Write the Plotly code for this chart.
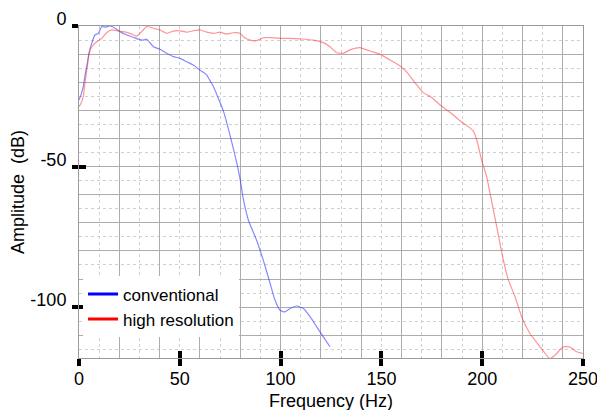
import plotly.graph_objects as go

conv_f = [0, 1, 2.1, 3, 4.1, 5, 6.3, 7.9, 9.6, 11.3, 13, 15.4, 17.9, 20.3, 23.7, 26.9, 29.4, 31.9, 33.6, 36.9,
          40.2, 43.5, 46.8, 50.1, 53.4, 56.7, 60, 63.3, 65, 66.7, 69, 71.6, 74.9, 78.2, 80, 81.5, 84, 88.1, 91.4, 94.8,
          97.2, 99.7, 102.2, 104.7, 108, 111.3, 114.6, 117.9, 121.2, 124.5]
conv_a = [-26.3, -24.5, -21.6, -17.5, -13.3, -9.5, -6.2, -3.2, -2.6, -0.2, -0.4, 0, -0.8, -2, -3.2, -4.0, -4.7, -5.0, -4.7, -7.4,
          -8.3, -9.7, -10.9, -11.5, -12.7, -13.9, -15.7, -17.4, -19.5, -21.6, -25.5, -30.2, -38.8, -48.5, -54.8, -61.5, -69, -76.2, -83.3, -91.6,
          -97.5, -101.1, -101.7, -100.5, -99.6, -100.5, -103.4, -107, -110.6, -114.1]

hr_f = [0, 1, 2.1, 3, 4.1, 5, 6.3, 8.8, 11.3, 13.7, 16.2, 19.5, 22, 25.3, 28.6, 31.1, 33.6, 36.9, 40.2, 43.5,
        46.8, 50.1, 53.4, 56.7, 60, 63.3, 66.7, 70, 73.2, 76.5, 79.9, 81.5, 84.8, 88.2, 91.4, 94.7, 99.7, 104.7, 109.6, 116.2,
        121.2, 124.5, 127.8, 131.1, 134.4, 139.4, 144.3, 149.3, 154.3, 159.2, 162.5, 166.7, 170.8, 174.9, 179.1, 184, 189, 193.1, 195.6, 197.5,
        199.7, 202.2, 203.9, 207.2, 210.5, 213, 216.3, 219.6, 223.7, 228.7, 233.6, 236.1, 240.2, 243.5, 246.9, 250]
hr_a = [-28.7, -27.5, -25.2, -20, -14.5, -10, -7.4, -5.6, -4.4, -2.4, -1.4, -1.8, -2.0, -2.6, -3.6, -2.0, -0.2, -0.8, -1.4, -2.6,
        -1.8, -1.7, -2.2, -1.7, -1.4, -2.2, -2.6, -2.2, -2.9, -2.4, -2.6, -3.8, -5.0, -5.2, -4.2, -4.1, -4.4, -4.4, -4.6, -5.0,
        -5.9, -7.4, -9.5, -9.7, -8.5, -7.7, -8.9, -10.0, -12.1, -14.2, -16.3, -20.2, -23.7, -25.4, -28.1, -30.7, -33.7, -35.8, -37.4, -41,
        -47.7, -53.6, -59.5, -71.4, -83.3, -90.4, -96.3, -103.5, -109.4, -114.1, -118.3, -117.1, -114.1, -114.2, -115.9, -116.5]

x_ticks = [0, 50, 100, 150, 200, 250]
y_ticks = [0, -50, -100]
series_names = ["conventional", "high resolution"]

FONT = "Liberation Sans, Arial, sans-serif"
XR = [0, 250]
YR = [-118.1, 0]

fig = go.Figure()
fig.add_trace(go.Scatter(x=conv_f, y=conv_a, mode="lines", showlegend=False, hoverinfo="skip",
                         line=dict(color="rgba(50,50,255,0.58)", width=1.2, shape="spline", smoothing=0.5)))
fig.add_trace(go.Scatter(x=hr_f, y=hr_a, mode="lines", showlegend=False, hoverinfo="skip",
                         line=dict(color="rgba(255,50,50,0.52)", width=1.2, shape="spline", smoothing=0.5)))
# legend entries (full colour swatches)
fig.add_trace(go.Scatter(x=[None], y=[None], mode="lines", name=series_names[0], xaxis="x2", yaxis="y2",
                         line=dict(color="#0000ff", width=3)))
fig.add_trace(go.Scatter(x=[None], y=[None], mode="lines", name=series_names[1], xaxis="x2", yaxis="y2",
                         line=dict(color="#ff0000", width=3)))
fig.add_trace(go.Scatter(x=[None], y=[None], mode="lines", showlegend=False, xaxis="x3", yaxis="y3",
                         hoverinfo="skip"))

grid_major = "#acacac"
grid_minor = "#d0d0d0"

fig.update_layout(
    width=605, height=410,
    margin=dict(l=71, r=30, t=18, b=60, autoexpand=False),
    paper_bgcolor="white", plot_bgcolor="white",
    font=dict(family=FONT, size=17, color="black"),
    showlegend=True,
    legend=dict(x=0.008, y=0.062, xanchor="left", yanchor="bottom", bgcolor="white",
                borderwidth=0, font=dict(size=17, family=FONT), tracegroupgap=0,
                itemwidth=30),
    xaxis=dict(range=XR, dtick=20, tick0=0, showgrid=True, gridcolor=grid_major, gridwidth=1,
               minor=dict(dtick=10, tick0=0, showgrid=True, gridcolor=grid_minor, griddash="dot", gridwidth=1),
               showticklabels=False, ticks="", zeroline=False,
               showline=True, linecolor="#9a9a9a", linewidth=1, mirror=True),
    yaxis=dict(range=YR, dtick=10, tick0=0, showgrid=True, gridcolor=grid_major, gridwidth=1,
               minor=dict(dtick=5, tick0=0, showgrid=True, gridcolor=grid_minor, griddash="dot", gridwidth=1),
               showticklabels=False, ticks="", zeroline=False,
               showline=True, linecolor="#9a9a9a", linewidth=1, mirror=True),
    xaxis2=dict(range=XR, overlaying="x", anchor="y2", side="bottom", tickmode="array", tickvals=x_ticks,
                ticktext=[str(v) for v in x_ticks], ticks="outside", ticklen=7, tickwidth=4, tickcolor="black",
                showgrid=False, zeroline=False, showline=False, tickfont=dict(size=18, family=FONT),
                ticklabelstandoff=-3,
                title=dict(text="Frequency (Hz)", font=dict(size=18, family=FONT), standoff=6)),
    yaxis2=dict(range=YR, overlaying="y", anchor="x2", side="left", tickmode="array", tickvals=y_ticks,
                ticktext=[str(v) for v in y_ticks], ticks="outside", ticklen=6, tickwidth=4, tickcolor="black",
                showgrid=False, zeroline=False, showline=False, tickfont=dict(size=18, family=FONT),
                ticklabelshift=-7, ticklabelstandoff=2,
                title=dict(text="Amplitude  (dB)", font=dict(size=18, family=FONT), standoff=4)),
    xaxis3=dict(range=XR, overlaying="x", anchor="y3", side="bottom", tickmode="array", tickvals=x_ticks,
                ticks="inside", ticklen=7, tickwidth=4, tickcolor="black", showticklabels=False,
                showgrid=False, zeroline=False, showline=False),
    yaxis3=dict(range=YR, overlaying="y", anchor="x3", side="left", tickmode="array", tickvals=y_ticks,
                ticks="inside", ticklen=7, tickwidth=4, tickcolor="black", showticklabels=False,
                showgrid=False, zeroline=False, showline=False),
)

fig.write_html("out.html")
